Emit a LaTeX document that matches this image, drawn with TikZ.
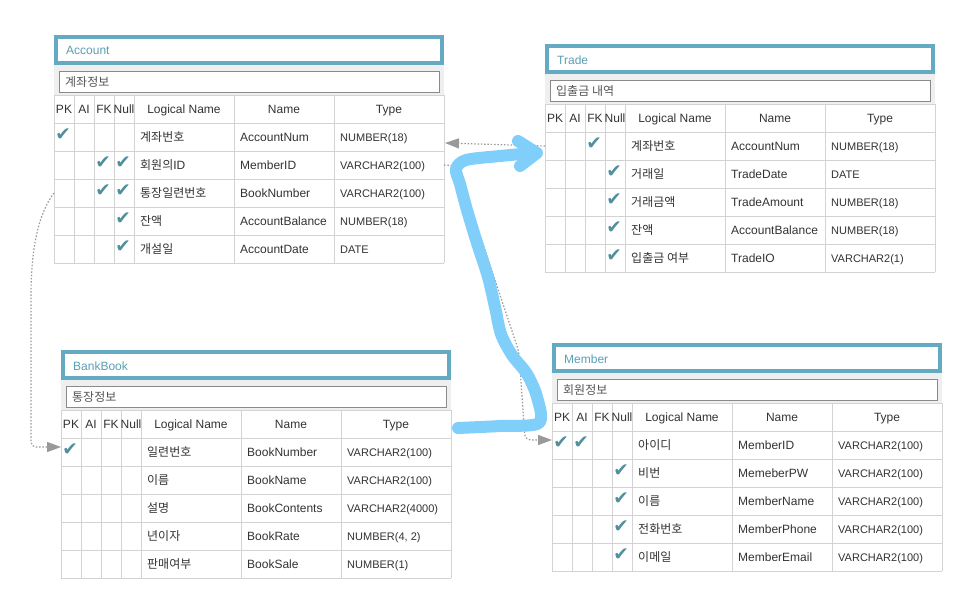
\documentclass[tikz,border=0pt]{standalone}
\usepackage{fontspec}
\setmainfont{Liberation Sans}
\newfontfamily\kr{Noto Sans CJK KR}
\newfontfamily\symf{DejaVu Sans}
\usetikzlibrary{arrows.meta,calc}
\definecolor{hdr}{HTML}{65AAC3}
\definecolor{titlec}{HTML}{5A9FB5}
\definecolor{areagray}{HTML}{EFEFEF}
\definecolor{gridc}{HTML}{D3D3D3}
\definecolor{chkc}{HTML}{50909E}
\definecolor{txt}{HTML}{333333}
\definecolor{ctxt}{HTML}{555555}
\definecolor{boxc}{HTML}{8A8A8A}
\definecolor{connc}{HTML}{999999}
\definecolor{scrib}{HTML}{80CFFA}
\tikzset{
  grid/.style={draw=gridc, line width=1pt},
  titletext/.style={anchor=base west, inner sep=0pt, text=titlec, font=\fontsize{12}{14}\selectfont},
  cbox/.style={anchor=north west, draw=boxc, fill=white, line width=1pt, minimum width=380pt, minimum height=21pt, inner sep=0pt},
  ctext/.style={anchor=base west, inner sep=0pt, text=ctxt, font=\fontsize{12}{14}\selectfont},
  hlabel/.style={anchor=base, inner sep=0pt, text=txt, font=\fontsize{12}{14}\selectfont},
  cell/.style={anchor=base west, inner sep=0pt, text=txt, font=\fontsize{12}{14}\selectfont},
  tcell/.style={anchor=base west, inner sep=0pt, text=txt, font=\fontsize{11}{13}\selectfont},
  chk/.style={inner sep=0pt, text=chkc, font=\symf\fontsize{18.5}{19}\selectfont},
  conn/.style={draw=connc, line width=1.2pt, dash pattern=on 1.5pt off 1.8pt, -{Triangle[length=14pt,width=10pt]}},
  scribble/.style={draw=scrib, line width=12pt, line cap=round, line join=round}
}
% table frame: #1 id, #2 x0, #3 y0, #4 title, #5 comment
\newcommand\ertable[5]{%
  \fill[areagray] (#2,#3+30) rectangle (#2+390,#3+60);
  \fill[white] (#2,#3+60) rectangle (#2+390,#3+228);
  \draw[hdr, line width=4pt] (#2+2,#3+2) rectangle (#2+388,#3+28);
  \node[titletext] (#1-title) at (#2+12,#3+20) {#4};
  \node[cbox] (#1-comment) at (#2+5,#3+36) {};
  \node[ctext] (#1-ctext) at (#2+11,#3+51) {\kr #5};
  \foreach \cx in {0,20,40,60,80,180,280,390} {\draw[grid] (#2+\cx,#3+60) -- (#2+\cx,#3+228);}
  \foreach \ry in {60,88,...,228} {\draw[grid] (#2,#3+\ry) -- (#2+390,#3+\ry);}
  \node[hlabel] (#1-hpk) at (#2+10,#3+78.5) {PK};
  \node[hlabel] (#1-hai) at (#2+30,#3+78.5) {AI};
  \node[hlabel] (#1-hfk) at (#2+50,#3+78.5) {FK};
  \node[hlabel] (#1-hnull) at (#2+70,#3+78.5) {Null};
  \node[hlabel] (#1-hlog) at (#2+130,#3+78.5) {Logical Name};
  \node[hlabel] (#1-hname) at (#2+230,#3+78.5) {Name};
  \node[hlabel] (#1-htype) at (#2+335,#3+78.5) {Type};
}
% row: #1 index, #2 pk, #3 ai, #4 fk, #5 null, #6 logical, #7 name, #8 type
\newcommand\errow[8]{%
  \pgfmathsetmacro\rt{\ty+88+28*#1}%
  \coordinate (\tid-r#1-L) at (\tx,\rt+14);
  \coordinate (\tid-r#1-R) at (\tx+390,\rt+14);
  \ifnum#2=1\relax \node[chk] (\tid-r#1-pk) at (\tx+9,\rt+11.5) {✔};\fi
  \ifnum#3=1\relax \node[chk] (\tid-r#1-ai) at (\tx+29,\rt+11.5) {✔};\fi
  \ifnum#4=1\relax \node[chk] (\tid-r#1-fk) at (\tx+49,\rt+11.5) {✔};\fi
  \ifnum#5=1\relax \node[chk] (\tid-r#1-nl) at (\tx+69,\rt+11.5) {✔};\fi
  \node[cell] (\tid-r#1-log) at (\tx+86,\rt+18.5) {#6};
  \node[cell] (\tid-r#1-name) at (\tx+186,\rt+18.5) {#7};
  \node[tcell] (\tid-r#1-type) at (\tx+286,\rt+18.5) {#8};
}
\begin{document}
\begin{tikzpicture}[x=1pt,y=-1pt]
\useasboundingbox (0,0) rectangle (960,594);
\fill[white] (0,0) rectangle (960,594);

% Account
\def\tid{acc}\def\tx{54}\def\ty{35}
\ertable{acc}{54}{35}{Account}{계좌정보}
\errow{0}{1}{0}{0}{0}{{\kr 계좌번호}}{AccountNum}{NUMBER(18)}
\errow{1}{0}{0}{1}{1}{{\kr 회원의}ID}{MemberID}{VARCHAR2(100)}
\errow{2}{0}{0}{1}{1}{{\kr 통장일련번호}}{BookNumber}{VARCHAR2(100)}
\errow{3}{0}{0}{0}{1}{{\kr 잔액}}{AccountBalance}{NUMBER(18)}
\errow{4}{0}{0}{0}{1}{{\kr 개설일}}{AccountDate}{DATE}

% Trade
\def\tid{tr}\def\tx{545}\def\ty{44}
\ertable{tr}{545}{44}{Trade}{입출금 내역}
\errow{0}{0}{0}{1}{0}{{\kr 계좌번호}}{AccountNum}{NUMBER(18)}
\errow{1}{0}{0}{0}{1}{{\kr 거래일}}{TradeDate}{DATE}
\errow{2}{0}{0}{0}{1}{{\kr 거래금액}}{TradeAmount}{NUMBER(18)}
\errow{3}{0}{0}{0}{1}{{\kr 잔액}}{AccountBalance}{NUMBER(18)}
\errow{4}{0}{0}{0}{1}{{\kr 입출금 여부}}{TradeIO}{VARCHAR2(1)}

% BankBook
\def\tid{bank}\def\tx{61}\def\ty{350}
\ertable{bank}{61}{350}{BankBook}{통장정보}
\errow{0}{1}{0}{0}{0}{{\kr 일련번호}}{BookNumber}{VARCHAR2(100)}
\errow{1}{0}{0}{0}{0}{{\kr 이름}}{BookName}{VARCHAR2(100)}
\errow{2}{0}{0}{0}{0}{{\kr 설명}}{BookContents}{VARCHAR2(4000)}
\errow{3}{0}{0}{0}{0}{{\kr 년이자}}{BookRate}{NUMBER(4, 2)}
\errow{4}{0}{0}{0}{0}{{\kr 판매여부}}{BookSale}{NUMBER(1)}

% Member
\def\tid{mem}\def\tx{552}\def\ty{343}
\ertable{mem}{552}{343}{Member}{회원정보}
\errow{0}{1}{1}{0}{0}{{\kr 아이디}}{MemberID}{VARCHAR2(100)}
\errow{1}{0}{0}{0}{1}{{\kr 비번}}{MemeberPW}{VARCHAR2(100)}
\errow{2}{0}{0}{0}{1}{{\kr 이름}}{MemberName}{VARCHAR2(100)}
\errow{3}{0}{0}{0}{1}{{\kr 전화번호}}{MemberPhone}{VARCHAR2(100)}
\errow{4}{0}{0}{0}{1}{{\kr 이메일}}{MemberEmail}{VARCHAR2(100)}

% connectors
\draw[conn] (tr-r0-L) -- ($(acc-r0-R)+(1,6)$);
\draw[conn, rounded corners=6pt] (acc-r1-R) -- (457,166) -- (519,352) -- (525,440) -- ($(mem-r0-L)+(0,-5)$);
\draw[conn, rounded corners=5pt] (acc-r2-L) .. controls (38,214) and (31,250) .. (31,300) -- (31,447) -- ($(bank-r0-L)+(0,-5)$);

% hand-drawn highlight
\draw[scribble] plot[smooth, tension=0.5] coordinates {(458,428) (500,426) (539,423) (537,397) (527,374) (512,355) (501,334) (495,307) (488,277) (477,243) (467,210) (460,184) (456,169) (466,160) (500,156) (533,153)};
\draw[scribble] (518,141) -- (537,153) -- (520,166);
\end{tikzpicture}
\end{document}
